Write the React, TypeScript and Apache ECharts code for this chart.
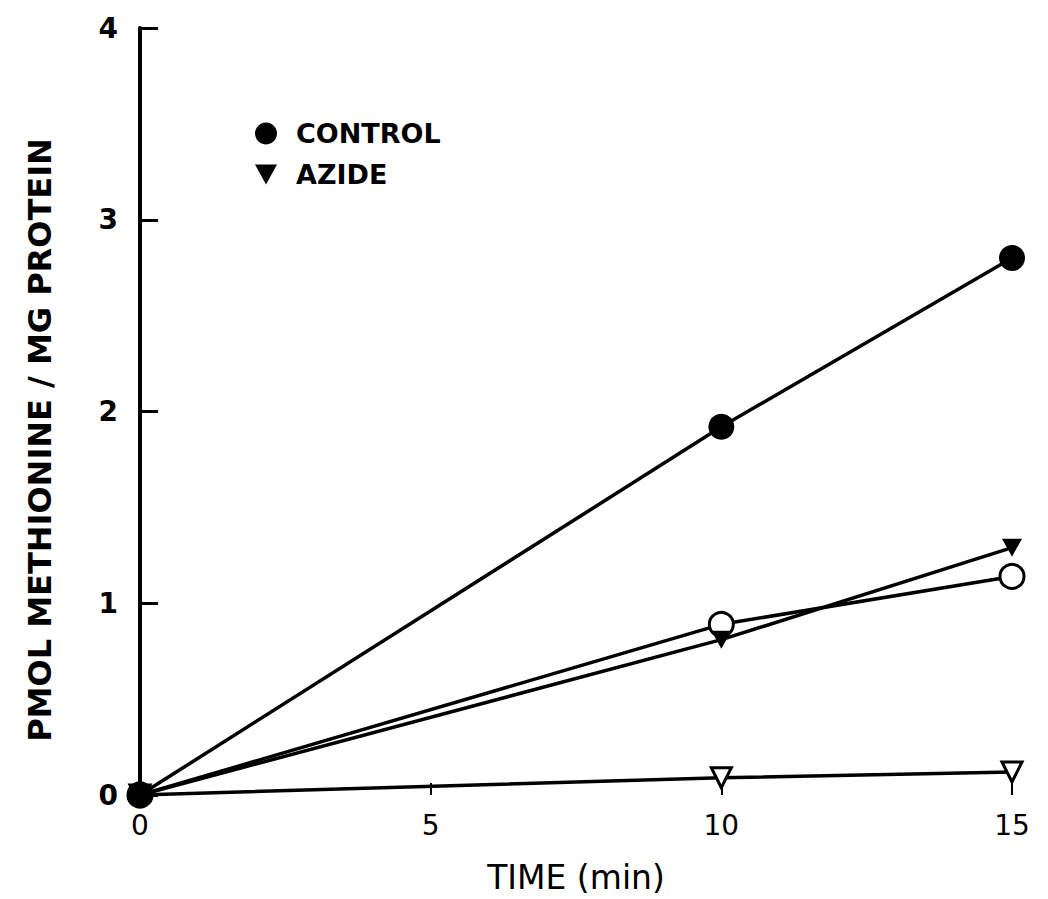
import React, { useEffect, useRef } from "react";
import * as echarts from "echarts";

const timeTicks = [0, 5, 10, 15];
const controlData: [number, number][] = [[0, 0], [10, 1.92], [15, 2.8]];
const azideData: [number, number][] = [[0, 0], [10, 0.81], [15, 1.29]];
const openCircleData: [number, number][] = [[0, 0], [10, 0.89], [15, 1.14]];
const openTriangleData: [number, number][] = [[0, 0], [10, 0.09], [15, 0.12]];
const legendNames = ["CONTROL", "AZIDE"];
const yTitle = "PMOL METHIONINE / MG PROTEIN";
const xTitle = "TIME (min)";

const FONT = "DejaVu Sans";
const DOWN_TRI = "path://M0,0 L10,0 L5,9 Z";

export default function App() {
  const ref = useRef<HTMLDivElement>(null);
  useEffect(() => {
    if (!ref.current) return;
    const chart = echarts.init(ref.current, undefined, { renderer: "svg" });
    const lineStyle = { color: "#000", width: 3.5 };
    chart.setOption({
      animation: false,
      backgroundColor: "#fff",
      grid: { left: 140, top: 28, width: 872, height: 772, containLabel: false },
      legend: {
        data: [
          { name: legendNames[0], icon: "circle" },
          { name: legendNames[1], icon: DOWN_TRI },
        ],
        orient: "vertical",
        left: 250,
        top: 115,
        itemWidth: 22,
        itemHeight: 22,
        itemGap: 14,
        textStyle: { fontFamily: FONT, fontSize: 27, fontWeight: "bold", color: "#000", padding: [0, 0, 0, 14] },
      },
      graphic: [
        {
          type: "text",
          x: 40,
          y: 440,
          rotation: Math.PI / 2,
          style: {
            text: yTitle,
            fontFamily: FONT,
            fontSize: 32,
            fontWeight: "bold",
            fill: "#000",
            textAlign: "center",
            textVerticalAlign: "middle",
          },
        },
      ],
      xAxis: {
        type: "value",
        min: timeTicks[0],
        max: timeTicks[timeTicks.length - 1],
        interval: 5,
        name: xTitle,
        nameLocation: "middle",
        nameGap: 66,
        nameTextStyle: { fontFamily: FONT, fontSize: 33, color: "#000" },
        axisLine: { show: false },
        axisTick: { show: true, inside: true, length: 12, lineStyle: { color: "#000", width: 2 } },
        axisLabel: { fontFamily: FONT, fontSize: 28, color: "#000", margin: 16 },
        splitLine: { show: false },
      },
      yAxis: {
        type: "value",
        min: 0,
        max: 4,
        interval: 1,
        axisLine: { show: true, lineStyle: { color: "#000", width: 4 } },
        axisTick: { show: true, inside: true, length: 18, lineStyle: { color: "#000", width: 3 } },
        axisLabel: { fontFamily: FONT, fontSize: 28, fontWeight: "bold", color: "#000", margin: 22 },
        splitLine: { show: false },
      },
      series: [
        {
          name: "open-triangle",
          type: "line",
          data: openTriangleData,
          symbol: "triangle",
          symbolRotate: 180,
          symbolSize: 20,
          lineStyle,
          itemStyle: { color: "#fff", borderColor: "#000", borderWidth: 3 },
          z: 2,
        },
        {
          name: "open-circle",
          type: "line",
          data: openCircleData,
          symbol: "circle",
          symbolSize: 24,
          lineStyle,
          itemStyle: { color: "#fff", borderColor: "#000", borderWidth: 3 },
          z: 3,
        },
        {
          name: legendNames[1],
          type: "line",
          data: azideData,
          symbol: DOWN_TRI,
          symbolSize: [20, 18],
          lineStyle,
          itemStyle: { color: "#000", borderWidth: 0 },
          z: 4,
        },
        {
          name: legendNames[0],
          type: "line",
          data: controlData,
          symbol: "circle",
          symbolSize: 26,
          lineStyle,
          itemStyle: { color: "#000", borderWidth: 0 },
          z: 5,
        },
      ],
    });
    return () => chart.dispose();
  }, []);
  return (
    <div
      ref={ref}
      style={{ position: "fixed", left: 0, top: 0, width: 1048, height: 899, background: "#fff" }}
    />
  );
}
